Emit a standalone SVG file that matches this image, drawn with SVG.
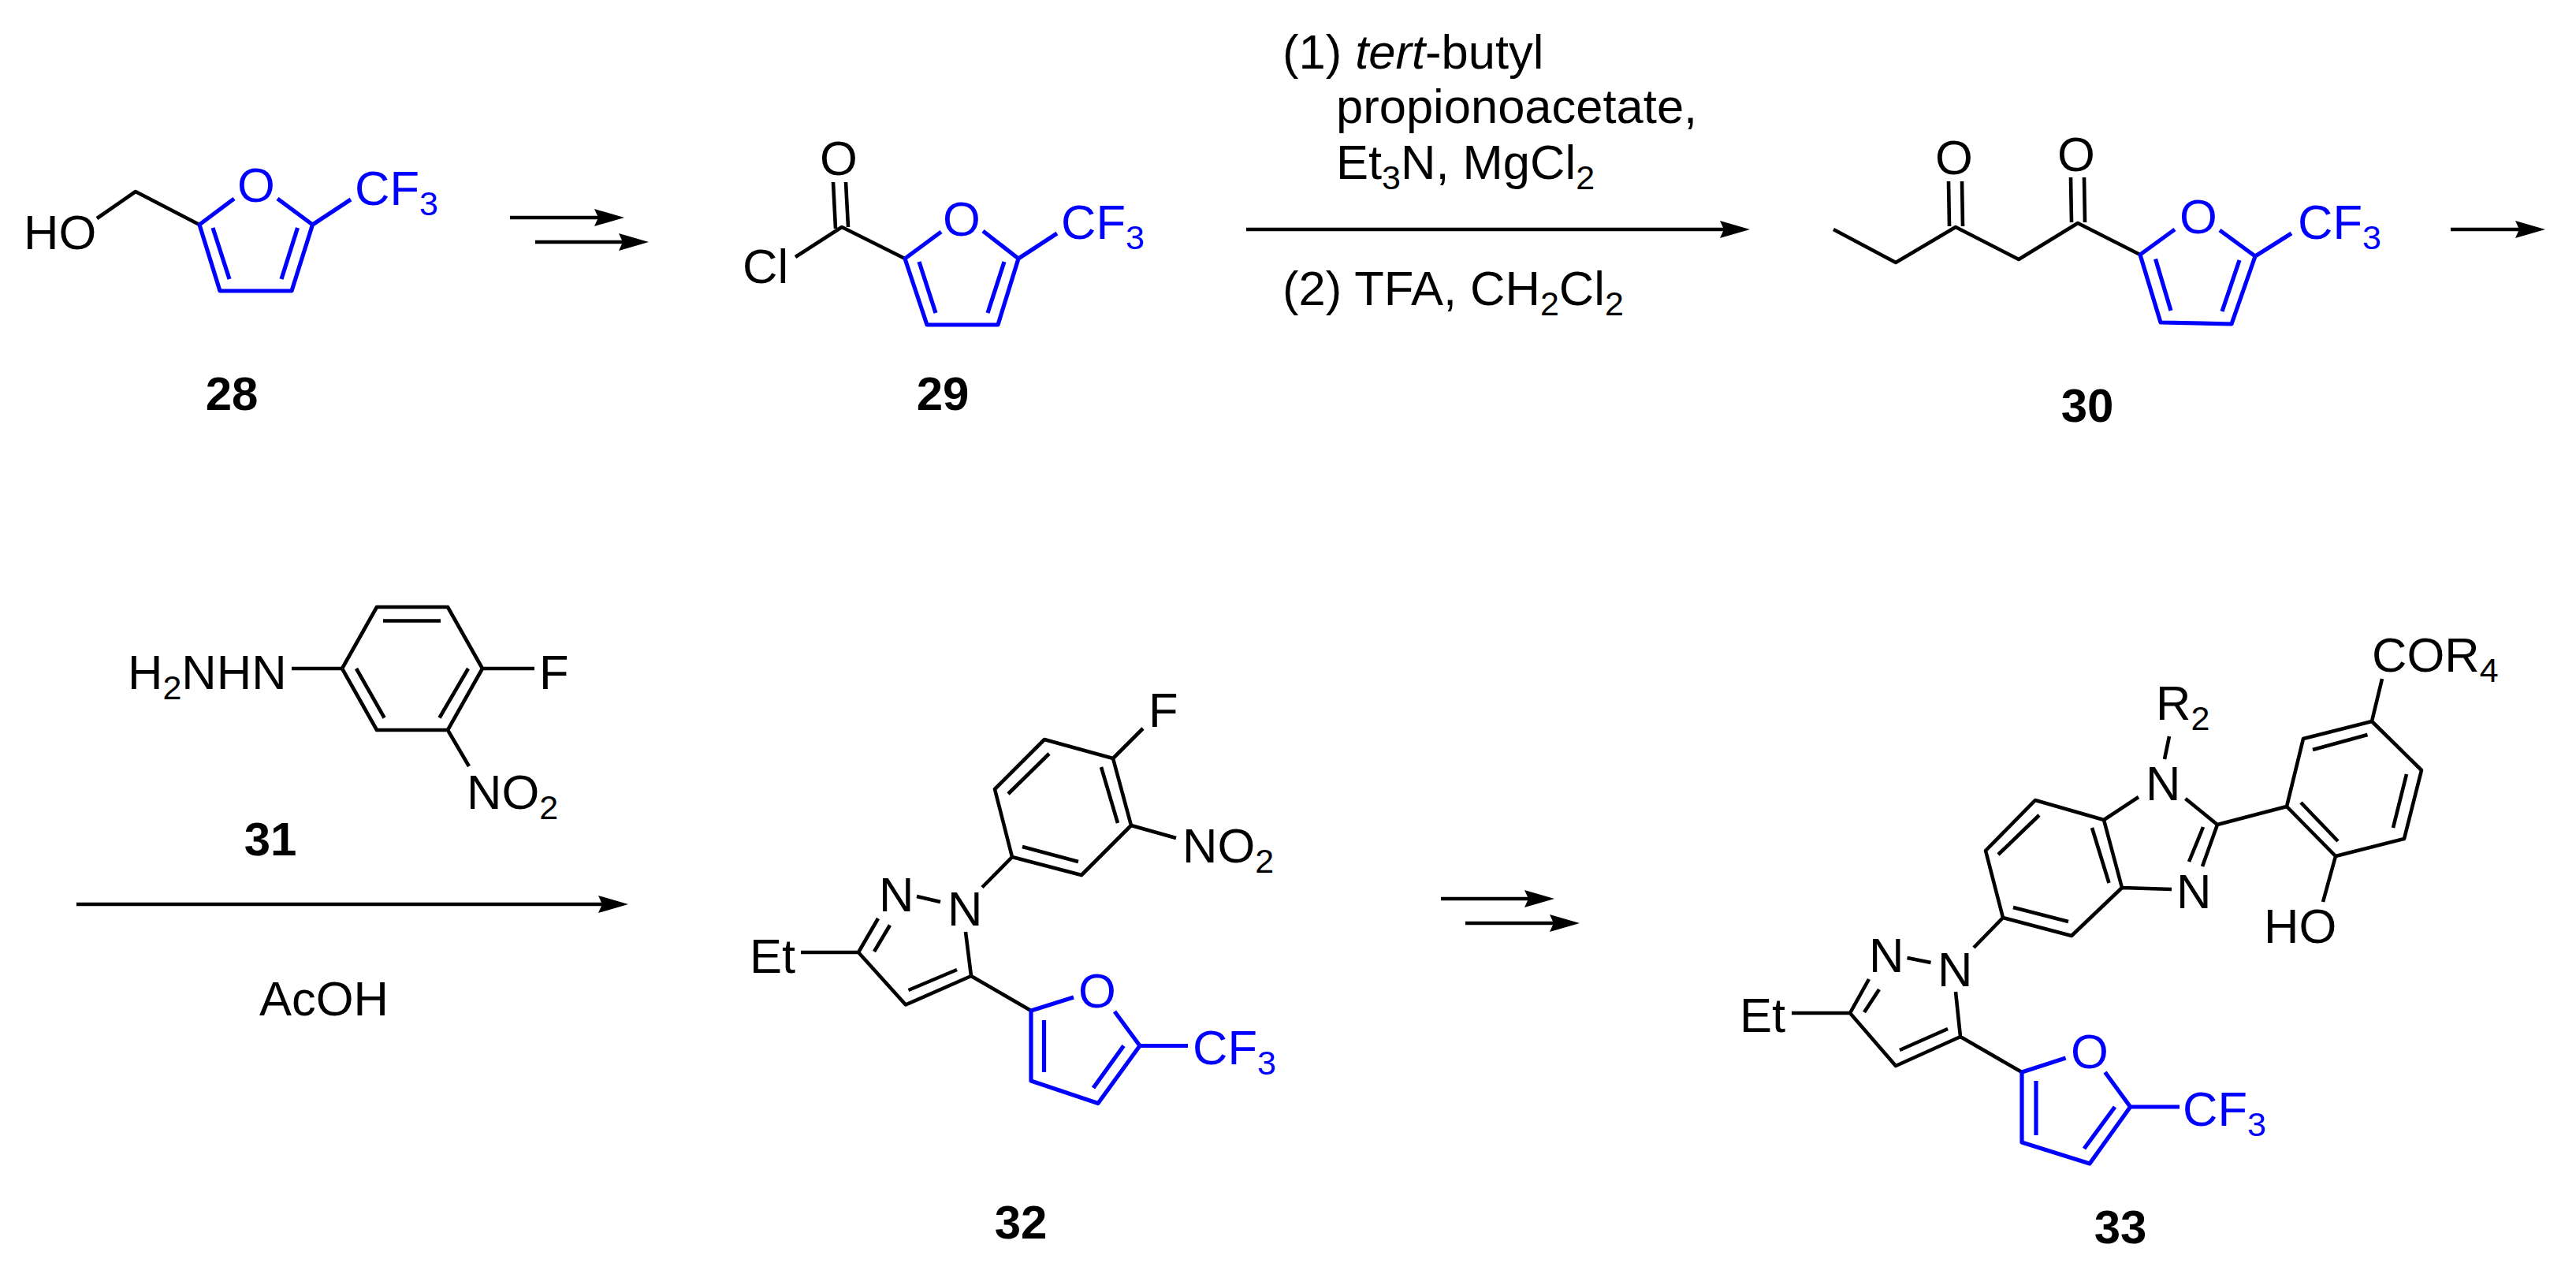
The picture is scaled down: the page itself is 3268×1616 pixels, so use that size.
<svg xmlns="http://www.w3.org/2000/svg" width="3268" height="1616" viewBox="0 0 3268 1616">
<style>
text{font-family:"Liberation Sans",Arial,sans-serif;font-size:61.500px;fill:#000}
.lb{font-weight:bold;text-anchor:middle;font-size:60px}
.bt{fill:#0000ff}
.s{font-size:43px}
path{fill:none;stroke-linejoin:round}
.k{stroke:#000;stroke-width:4.600}
.b{stroke:#0000ff;stroke-width:5.200}
.a{stroke:#000;stroke-width:4.700;fill:none}
</style>
<defs>
<marker id="ah" markerUnits="userSpaceOnUse" markerWidth="42" markerHeight="26" refX="18" refY="13" orient="auto">
<path d="M0 2L38 13L0 24L5 13Z" style="fill:#000;stroke:none"/>
</marker>
</defs>
<rect width="3268" height="1616" fill="#fff"/>
<g id="connectors">
<path class="a" marker-end="url(#ah)" d="M647 276H772"/>
<path class="a" marker-end="url(#ah)" d="M679 307H803"/>
<path class="a" marker-end="url(#ah)" d="M1581 291H2200"/>
<path class="a" marker-end="url(#ah)" d="M3109 291H3209"/>
<path class="a" marker-end="url(#ah)" d="M97 1147H777"/>
<path class="a" marker-end="url(#ah)" d="M1828 1140H1952"/>
<path class="a" marker-end="url(#ah)" d="M1859 1171H1984"/>
</g>
<g id="reagents-step2">
<text x="1627" y="87">(1) <tspan font-style="italic">tert</tspan>-butyl</text>
<text x="1695" y="156">propionoacetate,</text>
<text x="1695" y="227">Et<tspan class="s" dy="13">3</tspan><tspan dy="-13">N, MgCl</tspan><tspan class="s" dy="13">2</tspan></text>
<text x="1627" y="387">(2) TFA, CH<tspan class="s" dy="13">2</tspan><tspan dy="-13">Cl</tspan><tspan class="s" dy="13">2</tspan></text>
</g>
<g id="reagent-acoh"><text x="329" y="1288">AcOH</text></g>
<g id="compound-28">
<path class="k" d="M123 277L172 243L253 285"/>
<path class="b" d="M297 252L253 285L279 369H370L396.500 285L352 252M270 289L291 354M377.500 289L357 354M396.500 285L445 253"/>
<text x="30" y="316">HO</text>
<text class="bt" x="301" y="256">O</text>
<text class="bt" x="450" y="260">CF<tspan class="s" dy="13">3</tspan></text>
<text class="lb" x="294" y="520">28</text>
</g>
<g id="compound-29">
<path class="k" d="M1009 326L1068 288L1148 328M1057 231L1060 290M1073 231L1076 288"/>
<path class="b" d="M1194 294L1148 328L1176 412H1266L1292 328L1247 293M1166 332L1187 397M1274 332L1253 397M1292 328L1341 296"/>
<text x="942" y="359">Cl</text>
<text x="1040" y="222">O</text>
<text class="bt" x="1196" y="299">O</text>
<text class="bt" x="1346" y="303">CF<tspan class="s" dy="13">3</tspan></text>
<text class="lb" x="1196" y="520">29</text>
</g>
<g id="compound-30">
<path class="k" d="M2326 291L2405 333L2481 288L2561 329L2636 283L2715 323M2472 230L2473 287M2489 230L2490 287M2627 225L2628 282M2644 225L2645 282"/>
<path class="b" d="M2759 291L2715 323L2741 409L2831 411L2861 325L2816 292M2734.500 328.500L2754 394M2841 330L2819 395M2861 325L2907 296"/>
<text x="2455" y="221">O</text>
<text x="2610" y="217">O</text>
<text class="bt" x="2765" y="296">O</text>
<text class="bt" x="2915" y="303">CF<tspan class="s" dy="13">3</tspan></text>
<text class="lb" x="2648" y="535">30</text>
</g>
<g id="compound-31">
<path class="k" d="M478 770H568L612 848L568 926H478L434 848ZM486 787.500H559M452 848L487.600 910.500M594 848L557.500 910.500M434 848H370M612 848H678M568 926L595 972"/>
<text x="162" y="874">H<tspan class="s" dy="13">2</tspan><tspan dy="-13">NHN</tspan></text>
<text x="684" y="874">F</text>
<text x="592" y="1026">NO<tspan class="s" dy="13">2</tspan></text>
<text class="lb" x="343" y="1085">31</text>
</g>
<g id="compound-32">
<path class="k" d="M1325 938L1412 962L1435 1047L1372 1110L1284 1087L1262 1001ZM1331 956L1279 1007M1397 973L1418 1044M1297 1074L1368 1093M1412 962L1450 924M1435 1047L1492 1063M1284 1087L1246 1125.500M1163 1137L1193 1144M1225 1182L1232 1238L1149 1274.500L1089 1208L1114 1165M1214 1230L1152.500 1256M1109 1207L1129 1173.500M1089 1208H1016M1232 1238L1308 1282"/>
<path class="b" d="M1362 1265L1308 1282V1371L1393 1399.500L1446 1326.500L1414 1283M1324.500 1294V1360M1425.500 1326.500L1387 1380M1446 1326.500H1507"/>
<text x="1457" y="922">F</text>
<text x="1500" y="1094">NO<tspan class="s" dy="13">2</tspan></text>
<text x="1202" y="1174">N</text>
<text x="1115" y="1156">N</text>
<text x="951" y="1234">Et</text>
<text class="bt" x="1368" y="1278">O</text>
<text class="bt" x="1513" y="1350">CF<tspan class="s" dy="13">3</tspan></text>
<text class="lb" x="1295" y="1571">32</text>
</g>
<g id="compound-33">
<path class="k" d="M3009 915L3072 977L3050 1064L2963 1086L2901 1023L2922 937ZM3009 915L3022 861M3003.500 932L2934 951M3053 982L3036 1050M2966 1067L2919 1018M2963 1086L2947 1144M2901 1023L2813 1046L2772.500 1013M2813 1046L2794 1099M2795 1049L2777 1093M2755 1128L2692 1126L2669 1040L2582 1015L2519 1079L2541 1164L2628 1187L2692 1126M2713 1011L2669 1040M2654 1050L2675.500 1120M2587 1034L2535 1084M2554 1151L2624 1169M2752 934L2746 963M2541 1164L2504 1202M2419.500 1215L2449.500 1221M2481 1258L2487 1315L2405 1352L2347 1285L2371 1242M2471 1305L2410 1332M2365 1284L2384 1255M2347 1285H2273M2487 1315L2565 1360"/>
<path class="b" d="M2620.600 1342L2565 1360V1449L2651 1476L2702.600 1404L2670.500 1360M2583 1371V1440M2683 1404L2644 1457M2702.600 1404H2765"/>
<text x="3009" y="852">COR<tspan class="s" dy="13">4</tspan></text>
<text x="2735" y="913">R<tspan class="s" dy="13">2</tspan></text>
<text x="2722" y="1015">N</text>
<text x="2761" y="1152">N</text>
<text x="2872" y="1196">HO</text>
<text x="2458" y="1251">N</text>
<text x="2371" y="1233">N</text>
<text x="2207" y="1309">Et</text>
<text class="bt" x="2627" y="1355">O</text>
<text class="bt" x="2769" y="1428">CF<tspan class="s" dy="13">3</tspan></text>
<text class="lb" x="2690" y="1577">33</text>
</g>
</svg>
